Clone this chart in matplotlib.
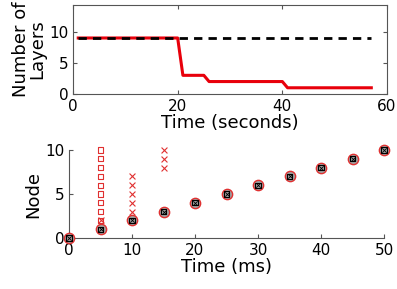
import numpy as np
import matplotlib
matplotlib.use("Agg")
import matplotlib.pyplot as plt

# top panel: number of layers over time
layer_t = [1, 20, 21, 25, 26, 40, 41, 57]
layer_n = [9, 9, 3, 3, 2, 2, 1, 1]
ref_t = [1, 57]
ref_n = [9, 9]

# bottom panel: node activation times
diag_t = [0, 5, 10, 15, 20, 25, 30, 35, 40, 45, 50]
diag_node = [0, 1, 2, 3, 4, 5, 6, 7, 8, 9, 10]
sq_t = [5, 5, 5, 5, 5, 5, 5, 5, 5]
sq_node = [2, 3, 4, 5, 6, 7, 8, 9, 10]
x_t = [5, 10, 10, 10, 10, 10, 15, 15, 15]
x_node = [2, 3, 4, 5, 6, 7, 8, 9, 10]

plt.rcParams["font.family"] = "DejaVu Sans"

fig = plt.figure(figsize=(3.97, 2.89), dpi=100)
ax1 = fig.add_axes([73 / 397, 1 - 94 / 289, (387 - 73) / 397, (94 - 5) / 289])
ax2 = fig.add_axes([69 / 397, 1 - 238 / 289, (384 - 69) / 397, (238 - 150) / 289])

ax1.plot(layer_t, layer_n, "-", color="#e8000b", lw=2.2)
ax1.plot(ref_t, ref_n, "--", color="black", lw=2, dashes=(3, 2.2))
ax1.set_xlim(0, 60)
ax1.set_ylim(0, 14.3)
ax1.set_xticks([0, 20, 40, 60])
ax1.set_yticks([0, 5, 10])
ax1.tick_params(direction="in", top=True, right=True, labelsize=11, length=3, color="#555555")
for s in ax1.spines.values():
    s.set_color("#555555")
ax1.set_xlabel("Time (seconds)", fontsize=13, labelpad=0)
ax1.set_ylabel("Number of\nLayers", fontsize=13, linespacing=0.9, labelpad=2)

ax2.scatter(diag_t, diag_node, s=55, facecolor="#a0a0a0", edgecolor="#e03030", lw=1, clip_on=False, zorder=3)
ax2.scatter(diag_t, diag_node, s=14, marker="s", facecolor="none", edgecolor="black", lw=0.8, clip_on=False, zorder=4)
ax2.scatter(diag_t, diag_node, s=10, marker="x", color="black", lw=0.6, clip_on=False, zorder=5)
ax2.scatter(sq_t, sq_node, s=14, marker="s", facecolor="none", edgecolor="#e03030", lw=0.8, clip_on=False, zorder=4)
ax2.scatter(x_t, x_node, s=18, marker="x", color="#e03030", lw=0.8, clip_on=False, zorder=5)
ax2.set_xlim(0, 50)
ax2.set_ylim(0, 10)
ax2.set_xticks([0, 10, 20, 30, 40, 50])
ax2.set_yticks([0, 5, 10])
ax2.spines["top"].set_visible(False)
ax2.spines["right"].set_visible(False)
ax2.spines["left"].set_color("#555555")
ax2.spines["bottom"].set_color("#555555")
ax2.tick_params(direction="in", labelsize=11, length=3, color="#555555")
ax2.set_xlabel("Time (ms)", fontsize=13, labelpad=0)
ax2.set_ylabel("Node", fontsize=13, labelpad=2)

fig.savefig("out.png", dpi=100)
